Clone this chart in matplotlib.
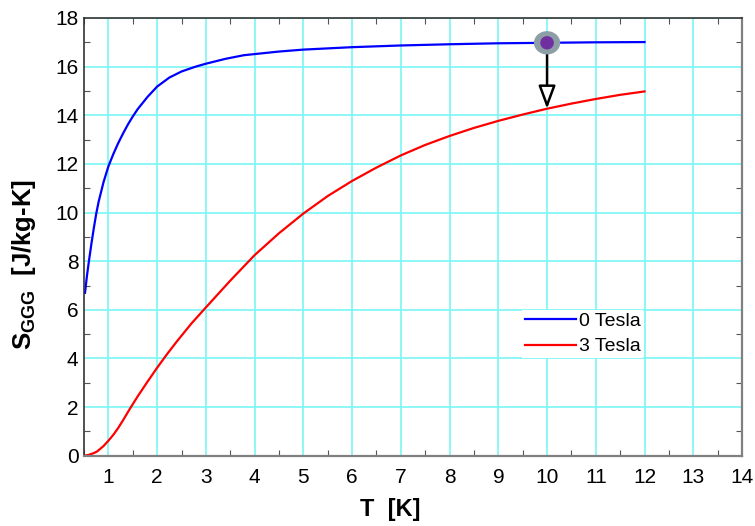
import numpy as np
import matplotlib
matplotlib.use("Agg")
import matplotlib.pyplot as plt
from matplotlib.patches import Ellipse
from matplotlib.ticker import MultipleLocator

plt.rcParams['font.family'] = ['Liberation Sans', 'DejaVu Sans']
plt.rcParams['mathtext.fontset'] = 'custom'
plt.rcParams['mathtext.rm'] = 'Liberation Sans'
plt.rcParams['mathtext.bf'] = 'Liberation Sans:bold'

# 0 Tesla curve
t_0T = [0.52, 0.56, 0.6, 0.65, 0.7, 0.75, 0.8, 0.9, 1.0, 1.1, 1.2, 1.3, 1.4,
        1.5, 1.6, 1.8, 2.0, 2.25, 2.5, 2.79, 3.0, 3.4, 3.78, 4.5, 5.0, 6.0,
        7.0, 8.0, 9.0, 10.0, 11.0, 12.0]
s_0T = [6.7, 7.4, 8.0, 8.7, 9.35, 9.95, 10.45, 11.25, 11.9, 12.4, 12.85, 13.25,
        13.62, 13.95, 14.25, 14.75, 15.18, 15.55, 15.8, 16.0, 16.12, 16.32,
        16.47, 16.62, 16.7, 16.8, 16.87, 16.92, 16.96, 16.98, 17.0, 17.01]

# 3 Tesla curve
t_3T = [0.5, 0.6, 0.7, 0.77, 0.9, 1.0, 1.1, 1.2, 1.3, 1.44, 1.6, 1.8, 2.0,
        2.2, 2.4, 2.7, 3.0, 3.5, 4.0, 4.5, 5.0, 5.5, 6.0, 6.5, 7.0, 7.5, 8.0,
        8.5, 9.0, 9.5, 10.0, 10.5, 11.0, 11.5, 12.0]
s_3T = [0.0, 0.04, 0.11, 0.18, 0.4, 0.62, 0.86, 1.14, 1.46, 1.93, 2.44, 3.04,
        3.62, 4.17, 4.69, 5.43, 6.1, 7.2, 8.25, 9.15, 9.96, 10.68, 11.3, 11.85,
        12.35, 12.78, 13.15, 13.48, 13.77, 14.03, 14.27, 14.48, 14.67, 14.84,
        14.98]

# marker / arrow
t_mark = 10.0
s_start = 16.98
s_end = 14.27

x_ticks = list(range(1, 15))
y_ticks = list(range(0, 19, 2))

fig = plt.figure(figsize=(7.55, 5.26), dpi=100)
ax = fig.add_axes([0.1113, 0.1335, 0.8715, 0.8323])

ax.plot(t_0T, s_0T, color='#0000ff', lw=1.6, label='0 Tesla')
ax.plot(t_3T, s_3T, color='#ff0000', lw=1.6, label='3 Tesla')

ax.annotate('', xy=(t_mark, s_end), xytext=(t_mark, s_start - 0.4),
            arrowprops=dict(arrowstyle='-|>,head_length=0.7,head_width=0.26',
                            color='black', lw=1.8, fc='white',
                            mutation_scale=20, shrinkA=0, shrinkB=0))
ax.add_patch(Ellipse((t_mark, s_start), 0.51, 0.9, color='#8c9fa6', zorder=5))
ax.add_patch(Ellipse((t_mark, s_start), 0.25, 0.49, color='#7030a0', zorder=6))

ax.set_xlim(0.5, 14)
ax.set_ylim(0, 18)
ax.set_xticks(x_ticks)
ax.set_yticks(y_ticks)
ax.xaxis.set_minor_locator(MultipleLocator(0.5))
ax.yaxis.set_minor_locator(MultipleLocator(1))
ax.grid(True, which='major', color='#7af6f6', lw=1.2)
ax.set_axisbelow(True)
ax.tick_params(which='major', length=0, labelsize=15)
ax.tick_params(axis='x', which='major', pad=9)
ax.tick_params(axis='y', which='major', pad=4)
ax.tick_params(which='minor', direction='in', length=4, width=0.8,
               color='#555555', top=True, right=True)

for side in ['bottom', 'right']:
    ax.spines[side].set_color('#808080')
    ax.spines[side].set_linewidth(1.6)
for side in ['left', 'top']:
    ax.spines[side].set_color('#333333')
    ax.spines[side].set_linewidth(1.2)

ax.set_xlabel('T  [K]', fontsize=17, fontweight='bold')
ax.xaxis.set_label_coords(0.465, -0.097)
ax.set_ylabel(r'$\mathbf{S}_{\mathbf{GGG}}$  [J/kg-K]', fontsize=18.5,
              fontweight='bold')
ax.yaxis.set_label_coords(-0.07, 0.436)

leg = ax.legend(loc='upper left', bbox_to_anchor=(0.666, 0.334), frameon=True,
                fontsize=14, handlelength=2.6, handletextpad=0.15,
                borderpad=0.15, labelspacing=0.4, borderaxespad=0)
leg.get_frame().set_edgecolor('none')
leg.get_frame().set_facecolor('white')
leg.get_frame().set_alpha(1)
leg.get_frame().set_boxstyle('square', pad=0)

fig.savefig('out.png', dpi=100)
